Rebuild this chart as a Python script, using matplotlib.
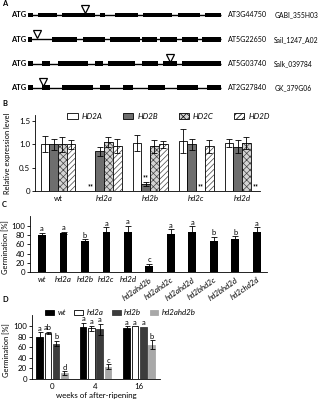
import matplotlib
matplotlib.use("Agg")
import matplotlib.pyplot as plt
import numpy as np

plt.rcParams['font.family'] = ['Lato', 'DejaVu Sans']
plt.rcParams['hatch.linewidth'] = 0.5

# ---------------- Panel A data (gene models, relative gene coordinates 0-100)
gene_ids = ['AT3G44750', 'AT5G22650', 'AT5G03740', 'AT2G27840']
line_ids = ['GABI_355H03', 'Sail_1247_A02', 'Salk_039784', 'GK_379G06']
exons = [
    [(0, 2.6), (5.2, 15), (17.6, 34.7), (37.3, 39.9), (45, 57), (59.6, 74.6), (77.7, 89), (91.7, 100)],
    [(0, 2), (12.4, 25.4), (28.5, 39.9), (42.5, 58), (59, 67), (68.4, 77.2), (79.8, 88.1), (90.2, 100)],
    [(0, 2.6), (7.3, 11.4), (15.5, 31), (34.7, 38.9), (41.5, 55.4), (59, 67.4), (70, 77.2), (79.8, 100)],
    [(0, 2.6), (7.3, 11.4), (17.6, 33.7), (37.3, 42.5), (49.2, 54.4), (62.2, 71), (77.2, 88), (92.7, 100)],
]
insertions = [29.5, 4.7, 73.6, 7.8]

# ---------------- Panel B data
genotypes_b = ['wt', 'hd2a', 'hd2b', 'hd2c', 'hd2d']
genes_b = ['HD2A', 'HD2B', 'HD2C', 'HD2D']
expr = {
    'HD2A': [1.00, 0.01, 1.03, 1.07, 1.03],
    'HD2B': [1.00, 0.85, 0.15, 1.00, 0.95],
    'HD2C': [1.00, 1.05, 0.96, 0.01, 1.03],
    'HD2D': [1.00, 0.97, 1.00, 0.96, 0.01],
}
expr_err = {
    'HD2A': [0.17, 0.00, 0.17, 0.25, 0.09],
    'HD2B': [0.12, 0.10, 0.05, 0.12, 0.14],
    'HD2C': [0.16, 0.10, 0.14, 0.00, 0.12],
    'HD2D': [0.10, 0.15, 0.07, 0.14, 0.00],
}
signif_b = {'HD2A': [1], 'HD2B': [2], 'HD2C': [3], 'HD2D': [4]}

# ---------------- Panel C data
genotypes_c = ['wt', 'hd2a', 'hd2b', 'hd2c', 'hd2d', 'hd2ahd2b', 'hd2ahd2c',
               'hd2ahd2d', 'hd2bhd2c', 'hd2bhd2d', 'hd2chd2d']
germ_c = [80, 85, 67, 87, 88, 12, 83, 88, 68, 72, 87]
germ_c_err = [6, 3, 4, 10, 13, 6, 10, 12, 9, 6, 10]
letters_c = ['a', 'a', 'b', 'a', 'a', 'c', 'a', 'a', 'b', 'b', 'a']

# ---------------- Panel D data
weeks = ['0', '4', '16']
lines_d = ['wt', 'hd2a', 'hd2b', 'hd2ahd2b']
germ_d = {
    'wt': [80, 98, 97],
    'hd2a': [87, 96, 100],
    'hd2b': [67, 94, 99],
    'hd2ahd2b': [11, 23, 65],
}
germ_d_err = {
    'wt': [8, 8, 3],
    'hd2a': [2, 5, 0],
    'hd2b': [5, 10, 0],
    'hd2ahd2b': [4, 5, 8],
}
letters_d = {
    'wt': ['a', 'a', 'a'],
    'hd2a': ['ab', 'a', 'a'],
    'hd2b': ['b', 'a', 'a'],
    'hd2ahd2b': ['d', 'c', 'b'],
}

W, H = 323, 400
fig = plt.figure(figsize=(W / 100, H / 100), dpi=100)


def px_axes(left, top, right, bottom):
    return fig.add_axes([left / W, 1 - bottom / H, (right - left) / W, (bottom - top) / H])


FS = 5.4

# ---------------- Panel A
axA = px_axes(0, 2.85, W, 100)
axA.set_xlim(-14.5, 152.8)
axA.set_ylim(4.5, 0.5)
axA.axis('off')
for i, (ex, ins) in enumerate(zip(exons, insertions)):
    row = i + 1
    axA.plot([0, 100], [row, row], color='black', lw=1.0, solid_capstyle='butt')
    axA.broken_barh([(s, e - s) for s, e in ex], (row - 0.1, 0.2), facecolor='black', edgecolor='none')
    axA.plot([ins], [row - 0.23], marker='v', markersize=6, markerfacecolor='white',
             markeredgecolor='black', markeredgewidth=0.9, ls='none')
    axA.text(-0.8, row, 'ATG', ha='right', va='center', fontsize=FS, fontweight='bold')
    axA.text(103.6, row, gene_ids[i], ha='left', va='center', fontsize=FS - 0.3)
    axA.text(127.5, row, line_ids[i], ha='left', va='center', fontsize=FS - 0.5)

# ---------------- Panel B
axB = px_axes(35, 115, 260, 191)
xb = np.arange(len(genotypes_b))
bw = 0.19
styles = {
    'HD2A': dict(face='white', hatch=None),
    'HD2B': dict(face='#6e6e6e', hatch=None),
    'HD2C': dict(face='#d4d4d4', hatch='xxxxx'),
    'HD2D': dict(face='white', hatch='//////'),
}
handles = []
for j, g in enumerate(genes_b):
    pos = xb + (j - 1.5) * bw
    st = styles[g]
    if st['hatch']:
        axB.bar(pos, expr[g], bw, color=st['face'], hatch=st['hatch'], edgecolor='#444444', lw=0)
        axB.bar(pos, expr[g], bw, facecolor='none', edgecolor='black', lw=0.6)
        proxy = plt.Rectangle((0, 0), 1, 1, facecolor=st['face'], edgecolor='black', hatch=st['hatch'], lw=0.6)
    else:
        axB.bar(pos, expr[g], bw, color=st['face'], edgecolor='black', lw=0.6)
        proxy = plt.Rectangle((0, 0), 1, 1, facecolor=st['face'], edgecolor='black', lw=0.6)
    handles.append(proxy)
    errs = np.array(expr_err[g])
    mask = errs > 0
    axB.errorbar(pos[mask], np.array(expr[g])[mask], yerr=errs[mask], fmt='none',
                 ecolor='black', elinewidth=0.6, capsize=2.2, capthick=0.6)
    for k in signif_b[g]:
        axB.text(pos[k], expr[g][k] + expr_err[g][k] + 0.01, '**', ha='center', va='bottom',
                 fontsize=FS - 0.4, fontweight='bold')
axB.set_xlim(-0.5, 4.39)
axB.set_ylim(0, 1.63)
axB.set_yticks([0, 0.5, 1.0, 1.5])
axB.set_yticklabels(['0', '0.5', '1.0', '1.5'])
axB.set_xticks(xb)
axB.set_xticklabels(genotypes_b)
for k, t in enumerate(axB.get_xticklabels()):
    if k > 0:
        t.set_style('italic')
axB.tick_params(axis='x', length=0, labelsize=FS + 0.3, pad=3)
axB.tick_params(axis='y', length=2, width=0.6, labelsize=FS + 0.3, pad=1.5)
axB.set_ylabel('Relative expression level', fontsize=FS)
axB.yaxis.set_label_coords(-0.105, 0.5)
for s in ['top', 'right']:
    axB.spines[s].set_visible(False)
for s in ['left', 'bottom']:
    axB.spines[s].set_linewidth(0.6)
legB = axB.legend(handles, genes_b, ncol=4, frameon=False, loc='upper left',
                  bbox_to_anchor=(0.13, 1.07), fontsize=FS + 0.3, handlelength=1.3,
                  handleheight=0.9, handletextpad=0.5, columnspacing=2.6, borderaxespad=0)
for t in legB.get_texts():
    t.set_style('italic')

# ---------------- Panel C
axC = px_axes(30, 216, 267, 272)
xc = np.arange(len(genotypes_c))
axC.bar(xc, germ_c, 0.37, color='black')
axC.errorbar(xc, germ_c, yerr=germ_c_err, fmt='none', ecolor='black', elinewidth=0.6,
             capsize=2.2, capthick=0.6)
for x, v, e, l in zip(xc, germ_c, germ_c_err, letters_c):
    axC.text(x, v + e + 1, l, ha='center', va='bottom', fontsize=FS)
axC.set_xlim(-0.56, 10.47)
axC.set_ylim(0, 122)
axC.set_yticks(np.arange(0, 101, 20))
axC.set_xticks(xc)
axC.set_xticklabels(genotypes_c)
for k, t in enumerate(axC.get_xticklabels()):
    t.set_style('italic')
    if k >= 5:
        t.set_rotation(35)
        t.set_ha('right')
        t.set_rotation_mode('anchor')
axC.tick_params(axis='x', length=0, labelsize=FS + 0.3, pad=3)
axC.tick_params(axis='y', length=2, width=0.6, labelsize=FS + 0.3, pad=1.5)
axC.set_ylabel('Germination [%]', fontsize=FS)
axC.yaxis.set_label_coords(-0.088, 0.45)
for s in ['top', 'right']:
    axC.spines[s].set_visible(False)
for s in ['left', 'bottom']:
    axC.spines[s].set_linewidth(0.6)

# ---------------- Panel D
axD = px_axes(32, 315, 160, 379)
xd = np.arange(len(weeks))
dstep = 0.19
dw = 0.15
colors_d = {'wt': 'black', 'hd2a': 'white', 'hd2b': '#3c3c3c', 'hd2ahd2b': '#a8a8a8'}
for j, ln in enumerate(lines_d):
    pos = xd + (j - 1.5) * dstep
    edge = 'black' if ln == 'hd2a' else colors_d[ln]
    axD.bar(pos, germ_d[ln], dw, color=colors_d[ln], edgecolor=edge, lw=0.6, label=ln)
    errs = np.array(germ_d_err[ln])
    mask = errs > 0
    axD.errorbar(pos[mask], np.array(germ_d[ln])[mask], yerr=errs[mask], fmt='none',
                 ecolor='black', elinewidth=0.6, capsize=1.8, capthick=0.6)
    for k in range(len(weeks)):
        axD.text(pos[k], germ_d[ln][k] + germ_d_err[ln][k] + 1, letters_d[ln][k],
                 ha='center', va='bottom', fontsize=FS)
axD.set_xlim(-0.46, 2.48)
axD.set_ylim(0, 121)
axD.set_yticks(np.arange(0, 101, 20))
axD.set_xticks(xd)
axD.set_xticklabels(weeks)
axD.tick_params(axis='x', length=0, labelsize=FS + 0.3, pad=3)
axD.tick_params(axis='y', length=2, width=0.6, labelsize=FS + 0.3, pad=1.5)
axD.set_xlabel('weeks of after-ripening', fontsize=FS + 0.3, labelpad=1)
axD.set_ylabel('Germination [%]', fontsize=FS)
axD.yaxis.set_label_coords(-0.17, 0.45)
for s in ['top', 'right']:
    axD.spines[s].set_visible(False)
for s in ['left', 'bottom']:
    axD.spines[s].set_linewidth(0.6)
legD = axD.legend(ncol=4, frameon=False, loc='lower left', bbox_to_anchor=(0.08, 0.93),
                  fontsize=FS + 0.3, handlelength=1.1, handleheight=0.6, handletextpad=0.4,
                  columnspacing=1.1, borderaxespad=0)
for t in legD.get_texts():
    t.set_style('italic')

# Panel letters
for lab, y in zip('ABCD', [4, 104, 205, 300]):
    fig.text(2 / W, 1 - y / H, lab, fontsize=FS, fontweight='bold', ha='left', va='center')

fig.savefig('out.png', dpi=100)
